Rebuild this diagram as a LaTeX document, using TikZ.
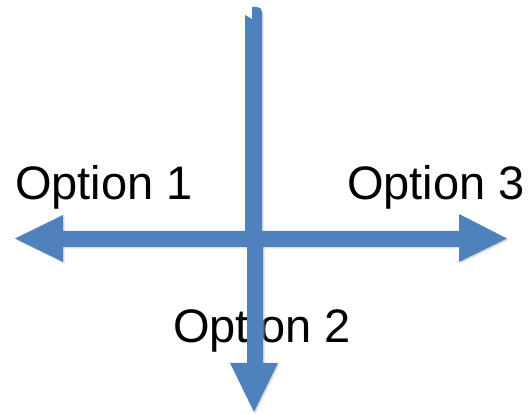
\documentclass[tikz,border=0pt]{standalone}
\usepackage{fontspec}
\setmainfont{Liberation Sans}
\definecolor{arrowblue}{HTML}{4F81BD}
\tikzset{
  lbl/.style={anchor=base west, inner sep=0pt, font=\fontsize{47}{56}\selectfont, text=black},
  barfill/.style={fill=arrowblue, draw=none},
  shadowfill/.style={fill=black!25, draw=none, opacity=0.5}
}
\begin{document}
\begin{tikzpicture}[x=1pt,y=-1pt]
\useasboundingbox (0,0) rectangle (528,414);
% labels
\node[lbl] (o1) at (15,199.5) {Option 1};
\node[lbl] (o3) at (347,199.5) {Option 3};
\node[lbl] (o2) at (173,342) {Option 2};
% soft shadows
\begin{scope}[shift={(1.5,1.5)}]
\fill[shadowfill] (15,238.5) -- (63,215) -- (63,231) -- (459,231) -- (459,214) -- (507,238.5) -- (459,262) -- (459,247) -- (63,247) -- (63,262) -- cycle;
\fill[shadowfill] (245,15) -- (252,19) -- (252,7) -- (258,7) -- (262,12) -- (262,239) -- (245,239) -- cycle;
\fill[shadowfill] (247,239) -- (263,239) -- (263,363) -- (278,363) -- (254,412) -- (230,363) -- (247,363) -- cycle;
\end{scope}
% horizontal double arrow
\fill[barfill] (15,238.5) -- (63,215) -- (63,231) -- (459,231) -- (459,214) -- (507,238.5) -- (459,262) -- (459,247) -- (63,247) -- (63,262) -- cycle;
% vertical upper bar with notched top
\fill[barfill] (245,15) -- (252,19) -- (252,7) -- (257,7) .. controls (260,7) and (262,9) .. (262,12) -- (262,239) -- (245,239) -- cycle;
% vertical lower arrow
\fill[barfill] (247,239) -- (263,239) -- (263,363) -- (278,363) -- (254,412) -- (230,363) -- (247,363) -- cycle;
\end{tikzpicture}
\end{document}
